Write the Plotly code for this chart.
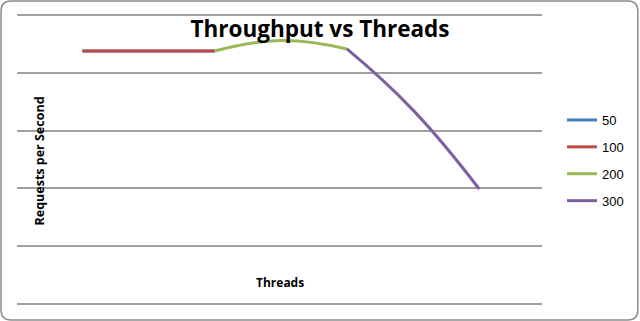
import plotly.graph_objects as go

# Data (y axis has no labels, arbitrary units 0-250)
threads = [1, 2, 3, 4, 5, 6, 7]
series_names = ["50", "100", "200", "300"]
s50 = [219.5, 219.5, 219.5, None, None, None, None]
s100 = [219.5, 219.5, 219.5, None, None, None, None]
s200 = [None, None, 219.5, 228.7, 221.3, None, None]
s300 = [None, None, None, None, 221.3, 168.0, 99.3]
colors = ["#4a7ebb", "#be4b48", "#98b954", "#7d60a0"]

W, H = 640, 321
L, R, T, B = 17, 543, 16, 303

fig = go.Figure()
for name, vals, c in zip(series_names, [s50, s100, s200, s300], colors):
    fig.add_trace(go.Scatter(
        x=threads, y=vals, name=name, mode="lines", legendgroup=name,
        line=dict(color=c, width=3, shape="spline", smoothing=1.3),
        connectgaps=False,
    ))

def px(xp):
    return (xp - L) / (R - L)

def py(yp):
    return (B - yp) / (B - T)

# rounded border around whole image
x0, x1, y0, y1, r = 1, 639, 1, 320, 10
path = (
    f"M {px(x0 + r)} {py(y0)} L {px(x1 - r)} {py(y0)} "
    f"Q {px(x1)} {py(y0)} {px(x1)} {py(y0 + r)} "
    f"L {px(x1)} {py(y1 - r)} Q {px(x1)} {py(y1)} {px(x1 - r)} {py(y1)} "
    f"L {px(x0 + r)} {py(y1)} Q {px(x0)} {py(y1)} {px(x0)} {py(y1 - r)} "
    f"L {px(x0)} {py(y0 + r)} Q {px(x0)} {py(y0)} {px(x0 + r)} {py(y0)} Z"
)

fig.update_layout(
    width=W, height=H,
    margin=dict(l=L, r=W - R, t=T, b=H - B),
    paper_bgcolor="white", plot_bgcolor="white",
    font=dict(family="Liberation Sans, Arial", color="#000000"),
    title=dict(text="<b>Throughput vs Threads</b>", x=0.5, xref="container", xanchor="center",
               y=1 - 29 / H, yanchor="middle", yref="container",
               font=dict(size=22.5, family="Open Sans, Liberation Sans", color="#000")),
    xaxis=dict(range=[0.01, 7.95], showgrid=False, showticklabels=False, zeroline=False,
               showline=True, mirror=True, linecolor="#a0a0a0", linewidth=1.5, ticks=""),
    yaxis=dict(range=[0, 250], dtick=50, showgrid=True, gridcolor="#a0a0a0", gridwidth=1.5,
               showticklabels=False, zeroline=False, showline=False, ticks=""),
    legend=dict(x=px(562), xref="paper", xanchor="left", y=py(105), yanchor="top",
                font=dict(size=13, family="Liberation Sans, Arial"),
                tracegroupgap=7, itemwidth=30, bgcolor="rgba(0,0,0,0)"),
    showlegend=True,
    shapes=[dict(type="path", xref="paper", yref="paper", path=path,
                 line=dict(color="#8c8c8c", width=1.5), layer="above")],
    annotations=[
        dict(text="<b>Requests per Second</b>", textangle=-90, x=px(29), y=py(161),
             xref="paper", yref="paper", showarrow=False,
             font=dict(size=12.5, family="Open Sans, Liberation Sans")),
        dict(text="<b>Threads</b>", x=px(281), y=py(293), xref="paper", yref="paper",
             showarrow=False, font=dict(size=12, family="Open Sans, Liberation Sans")),
    ],
)

fig.write_html("out.html")
